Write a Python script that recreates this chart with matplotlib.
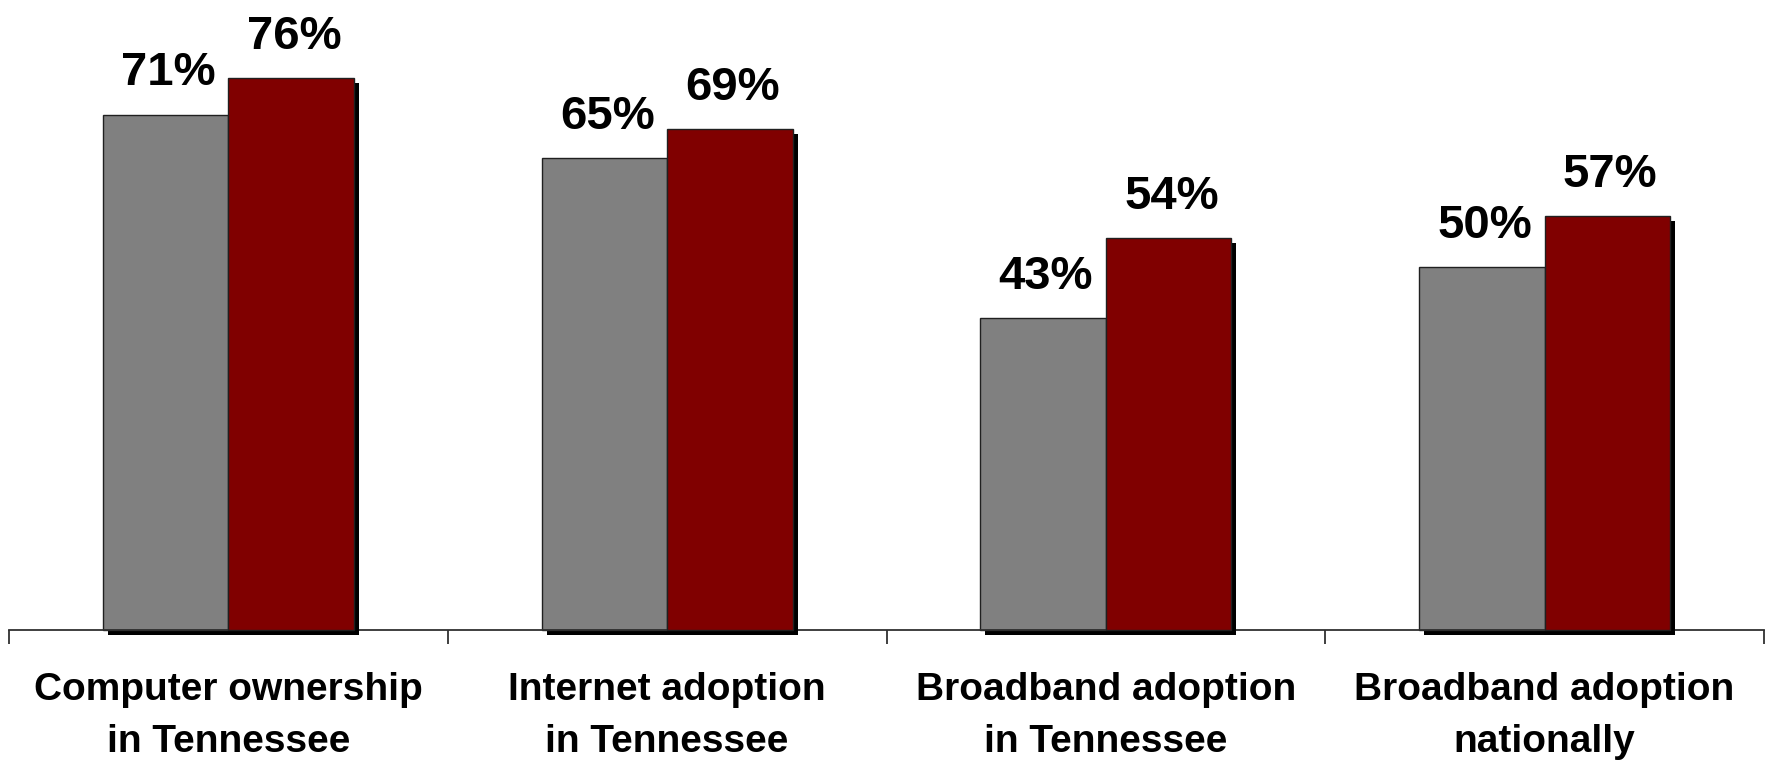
import numpy as np
import matplotlib.pyplot as plt
import matplotlib.patheffects as pe

categories = ["Computer ownership\nin Tennessee", "Internet adoption\nin Tennessee",
              "Broadband adoption\nin Tennessee", "Broadband adoption\nnationally"]
earlier = [71, 65, 43, 50]
later = [76, 69, 54, 57]

plt.rcParams['font.family'] = ['Liberation Sans', 'DejaVu Sans']
plt.rcParams['font.weight'] = 'bold'

fig = plt.figure(figsize=(17.7, 7.65), dpi=100)
ax = fig.add_axes([9 / 1770, 135 / 765, 1755 / 1770, 617 / 765])

x = np.arange(len(categories))
w = 0.286
shadow = [pe.SimplePatchShadow(offset=(3.6, -3.6), shadow_rgbFace='black', alpha=1.0), pe.Normal()]

b1 = ax.bar(x - w / 2, earlier, w, color='#808080', edgecolor='#202020', linewidth=1.0,
            clip_on=False, path_effects=shadow, zorder=2)
b2 = ax.bar(x + w / 2, later, w, color='#800000', edgecolor='#202020', linewidth=1.0,
            clip_on=False, path_effects=shadow, zorder=3)

for bars, vals in [(b1, earlier), (b2, later)]:
    for rect, v in zip(bars, vals):
        ax.annotate(f"{v}%", (rect.get_x() + rect.get_width() / 2, v),
                    xytext=(2, 21), textcoords='offset points',
                    ha='center', va='baseline', fontsize=34, fontweight='bold')

ax.set_xlim(-0.5, len(categories) - 0.5)
ax.set_ylim(0, 85)

for s in ['top', 'right', 'left']:
    ax.spines[s].set_visible(False)
ax.spines['bottom'].set_color('#303030')
ax.spines['bottom'].set_linewidth(1.3)
ax.set_yticks([])

ax.set_xticks(x)
ax.set_xticklabels(categories, fontsize=28, fontweight='bold', linespacing=1.6)
ax.tick_params(axis='x', which='major', length=0, pad=30)
ax.set_xticks(np.arange(-0.5, len(categories)), minor=True)
ax.tick_params(axis='x', which='minor', length=10, width=1.3, color='#303030')

fig.savefig('out.png', dpi=100)
